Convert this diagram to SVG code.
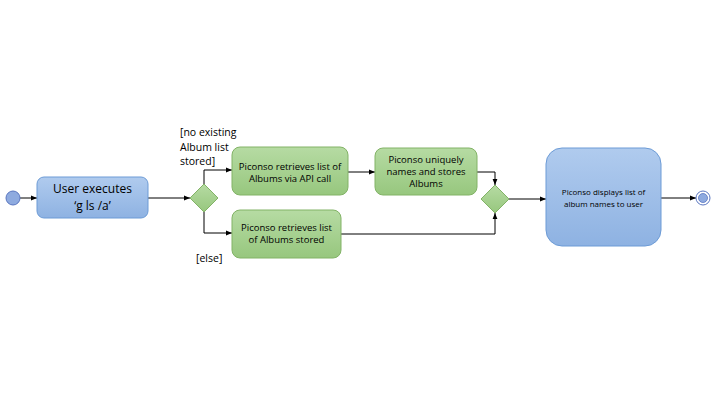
<svg xmlns="http://www.w3.org/2000/svg" width="720" height="405" viewBox="0 0 720 405">
<style>
text{font-family:"Open Sans","Liberation Sans",sans-serif;fill:#000;text-anchor:middle}
.g{fill:url(#gg);stroke:#82b366;stroke-width:1}
.b{fill:url(#bg);stroke:#6c9bd6;stroke-width:1}
.c{fill:none;stroke:#000;stroke-width:1}
.lbl{text-anchor:start;font-size:10.5px}
</style>
<defs>
<linearGradient id="gg" x1="0" y1="0" x2="0" y2="1"><stop offset="0" stop-color="#b6dba3"/><stop offset="1" stop-color="#97c77e"/></linearGradient>
<linearGradient id="bg" x1="0" y1="0" x2="0" y2="1"><stop offset="0" stop-color="#b0cbee"/><stop offset="1" stop-color="#8eb2e2"/></linearGradient>
<marker id="ah" viewBox="0 0 10 10" refX="10" refY="5" markerWidth="6" markerHeight="6" orient="auto"><path d="M0,1 L10,5 L0,9 z" fill="#000"/></marker>
</defs>
<g id="connectors">
<path class="c" d="M20,198 H37" marker-end="url(#ah)"/>
<path class="c" d="M148,198 H190" marker-end="url(#ah)"/>
<path class="c" d="M204,184 V170 H232" marker-end="url(#ah)"/>
<path class="c" d="M204,212 V233 H232" marker-end="url(#ah)"/>
<path class="c" d="M348,172 H375" marker-end="url(#ah)"/>
<path class="c" d="M477,172 H495 V185" marker-end="url(#ah)"/>
<path class="c" d="M341,234 H495 V213" marker-end="url(#ah)"/>
<path class="c" d="M509,199 H546" marker-end="url(#ah)"/>
<path class="c" d="M661,198 H696" marker-end="url(#ah)"/>
</g>
<g id="start"><circle cx="13" cy="198" r="7" fill="#8eaadf" stroke="#5a76c0"/></g>
<g id="user">
<rect class="b" x="37" y="177" width="111" height="41" rx="7"/>
<text x="92.5" y="193" font-size="12">User executes</text>
<text x="92.5" y="210" font-size="12">‘g ls /a’</text>
</g>
<g id="d1"><path class="g" d="M204,184 L218,198 L204,212 L190,198 z"/></g>
<g id="lbl1">
<text class="lbl" x="180" y="136">[no existing</text>
<text class="lbl" x="180" y="151">Album list</text>
<text class="lbl" x="180" y="165">stored]</text>
<text class="lbl" x="196" y="262">[else]</text>
</g>
<g id="api">
<rect class="g" x="232" y="147" width="116" height="48" rx="8"/>
<text x="290" y="170" font-size="9.5">Piconso retrieves list of</text>
<text x="290" y="182" font-size="9.5">Albums via API call</text>
</g>
<g id="uniq">
<rect class="g" x="375" y="148" width="102" height="47" rx="8"/>
<text x="426" y="163" font-size="9.5">Piconso uniquely</text>
<text x="426" y="175" font-size="9.5">names and stores</text>
<text x="426" y="187" font-size="9.5">Albums</text>
</g>
<g id="stored">
<rect class="g" x="232" y="210" width="109" height="48" rx="8"/>
<text x="286.5" y="231" font-size="9.5">Piconso retrieves list</text>
<text x="286.5" y="243" font-size="9.5">of Albums stored</text>
</g>
<g id="d2"><path class="g" d="M495,185 L509,199 L495,213 L481,199 z"/></g>
<g id="display">
<rect class="b" x="546" y="148" width="115" height="98" rx="16"/>
<text x="603.5" y="195" font-size="8">Piconso displays list of</text>
<text x="603.5" y="207" font-size="8">album names to user</text>
</g>
<g id="end">
<circle cx="703" cy="198" r="7" fill="#fff" stroke="#5a76c0"/>
<circle cx="703" cy="198" r="4.5" fill="#8eaadf" stroke="#5a76c0" stroke-width="0.8"/>
</g>
</svg>
